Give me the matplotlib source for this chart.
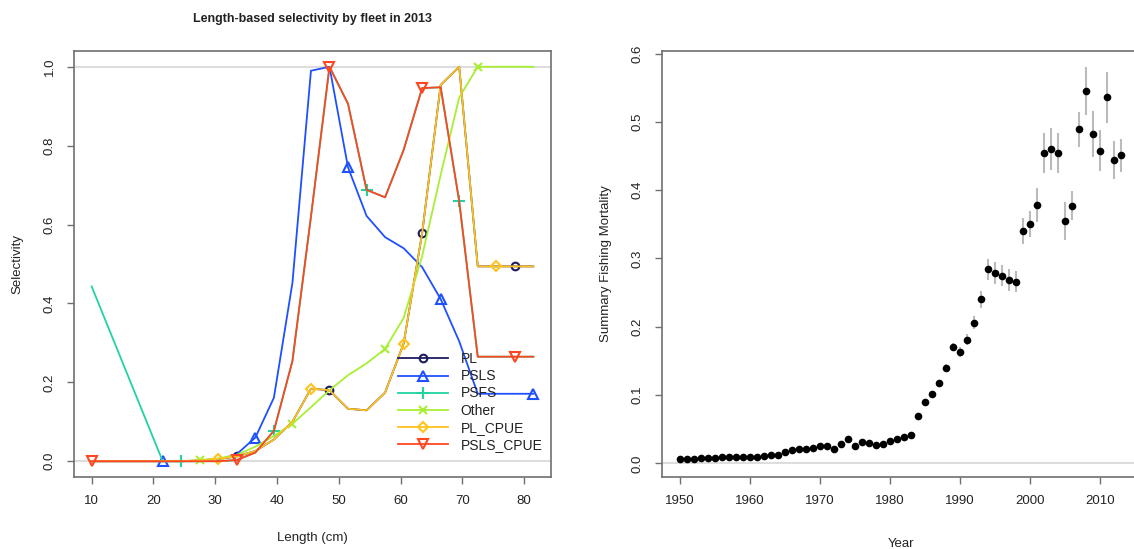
import matplotlib
matplotlib.use("Agg")
import matplotlib.pyplot as plt
import numpy as np

plt.rcParams["font.family"] = ["Liberation Sans", "DejaVu Sans"]

# length bins (cm)
length = [10, 21.5, 24.5, 27.5, 30.5, 33.5, 36.5, 39.5, 42.5, 45.5, 48.5,
          51.5, 54.5, 57.5, 60.5, 63.5, 66.5, 69.5, 72.5, 75.5, 78.5, 81.5]

sel_pl = [0, 0, 0, 0.002, 0.006, 0.012, 0.026, 0.055, 0.1, 0.184, 0.18,
          0.133, 0.129, 0.174, 0.298, 0.578, 0.954, 1.0, 0.494, 0.494, 0.494, 0.494]
sel_psls = [0, 0, 0, 0, 0.003, 0.018, 0.06, 0.161, 0.452, 0.99, 1.0,
            0.745, 0.622, 0.568, 0.54, 0.492, 0.411, 0.304, 0.171, 0.171, 0.171, 0.171]
sel_psfs = [0.443, 0, 0, 0, 0, 0.003, 0.022, 0.077, 0.254, 0.62, 1.0,
            0.906, 0.688, 0.669, 0.789, 0.946, 0.948, 0.659, 0.265, 0.265, 0.265, 0.265]
sel_other = [0, 0, 0, 0.003, 0.007, 0.016, 0.037, 0.064, 0.095, 0.137, 0.18,
             0.218, 0.248, 0.285, 0.363, 0.52, 0.726, 0.922, 1.0, 1.0, 1.0, 1.0]
sel_pl_cpue = [0, 0, 0, 0.002, 0.006, 0.012, 0.026, 0.055, 0.1, 0.184, 0.18,
               0.133, 0.129, 0.174, 0.298, 0.578, 0.954, 1.0, 0.494, 0.494, 0.494, 0.494]
sel_psls_cpue = [0, 0, 0, 0, 0, 0.003, 0.022, 0.077, 0.254, 0.62, 1.0,
                 0.906, 0.688, 0.669, 0.789, 0.946, 0.948, 0.659, 0.265, 0.265, 0.265, 0.265]

fleets = ["PL", "PSLS", "PSFS", "Other", "PL_CPUE", "PSLS_CPUE"]

# summary fishing mortality
years = list(range(1950, 2014))
f_est = [0.006, 0.007, 0.007, 0.008, 0.008, 0.008, 0.009, 0.010, 0.009, 0.010,
         0.009, 0.009, 0.011, 0.012, 0.012, 0.017, 0.020, 0.021, 0.021, 0.023,
         0.026, 0.025, 0.021, 0.028, 0.035, 0.026, 0.031, 0.030, 0.027, 0.029,
         0.033, 0.035, 0.038, 0.042, 0.069, 0.090, 0.101, 0.118, 0.140, 0.171,
         0.163, 0.181, 0.206, 0.240, 0.284, 0.279, 0.275, 0.269, 0.266, 0.340,
         0.350, 0.378, 0.454, 0.460, 0.454, 0.355, 0.377, 0.489, 0.545, 0.482,
         0.458, 0.536, 0.444, 0.451]
f_err = [0.001] * 34 + [0.002, 0.003, 0.003, 0.004, 0.005, 0.005,
                        0.007, 0.008, 0.009, 0.013, 0.015, 0.016, 0.015, 0.016, 0.015, 0.019,
                        0.019, 0.025, 0.029, 0.031, 0.029, 0.028, 0.021, 0.026, 0.035, 0.034,
                        0.030, 0.037, 0.028, 0.024]

colors = ["#1c1c5e", "#1f50ff", "#20d3a0", "#a8ef34", "#ffc320", "#ff4620"]
markers = ["o", "^", "+", "x", "D", "v"]
mark_idx = [[5, 10, 15, 20], [1, 6, 11, 16, 21], [2, 7, 12, 17],
            [3, 8, 13, 18], [4, 9, 14, 19], [0, 5, 10, 15, 20]]
msizes = [5.5, 6.5, 8, 6, 5, 6.5]

txt = "#222222"
spine_col = "#707070"

fig = plt.figure(figsize=(11.34, 5.49), dpi=100)

def style_axes(ax):
    for s in ax.spines.values():
        s.set_color(spine_col)
        s.set_linewidth(1.2)
    ax.tick_params(axis="both", direction="out", length=5, width=1.0,
                   color=spine_col, labelcolor=txt, labelsize=9.5, pad=8)
    for lab in ax.get_yticklabels():
        lab.set_rotation(90)
        lab.set_va("center")

# left panel
ax1 = fig.add_axes([74 / 1134, 1 - 477 / 549, 477 / 1134, 426 / 549])
ax1.axhline(0, color="#dddddd", lw=1.5, zorder=0)
ax1.axhline(1, color="#dddddd", lw=1.5, zorder=0)
series = [sel_pl, sel_psls, sel_psfs, sel_other, sel_pl_cpue, sel_psls_cpue]
for name, vals, c, m, idx, ms in zip(fleets, series, colors, markers, mark_idx, msizes):
    ax1.plot(length, vals, color=c, lw=1.3, marker=m, markevery=idx, ms=ms,
             mfc="none", mec=c, mew=1.5, label=name)
ax1.set_xlim(7.14, 84.36)
ax1.set_ylim(-0.04, 1.04)
ax1.set_xticks([10, 20, 30, 40, 50, 60, 70, 80])
ax1.set_yticks([0.0, 0.2, 0.4, 0.6, 0.8, 1.0])
ax1.set_yticklabels(["0.0", "0.2", "0.4", "0.6", "0.8", "1.0"])
style_axes(ax1)
ax1.set_xlabel("Length (cm)", fontsize=9.5, color=txt, labelpad=18)
ax1.set_ylabel("Selectivity", fontsize=9.5, color=txt, labelpad=15)
ax1.set_title("Length-based selectivity by fleet in 2013", fontsize=9,
              fontweight="bold", color=txt, pad=21)
leg = ax1.legend(loc="lower right", bbox_to_anchor=(1.0, 0.04), frameon=False,
                 fontsize=10, handlelength=3.6, handletextpad=0.9,
                 labelspacing=0.22, borderaxespad=0.2)
for t in leg.get_texts():
    t.set_color(txt)

# right panel
ax2 = fig.add_axes([662 / 1134, 1 - 477 / 549, 477 / 1134, 426 / 549])
ax2.axhline(0, color="#dddddd", lw=1.5, zorder=0)
ax2.errorbar(years, f_est, yerr=f_err, fmt="o", color="black", ms=5.5, mew=0,
             ecolor="#bbbbbb", elinewidth=1.5, capsize=0)
ax2.set_xlim(1947.48, 2015.52)
ax2.set_ylim(-0.02, 0.6037)
ax2.set_xticks([1950, 1960, 1970, 1980, 1990, 2000, 2010])
ax2.set_yticks([0.0, 0.1, 0.2, 0.3, 0.4, 0.5, 0.6])
ax2.set_yticklabels(["0.0", "0.1", "0.2", "0.3", "0.4", "0.5", "0.6"])
style_axes(ax2)
ax2.set_xlabel("Year", fontsize=9.5, color=txt, labelpad=22)
ax2.set_ylabel("Summary Fishing Mortality", fontsize=9.5, color=txt, labelpad=14)

fig.savefig("out.png", dpi=100)
